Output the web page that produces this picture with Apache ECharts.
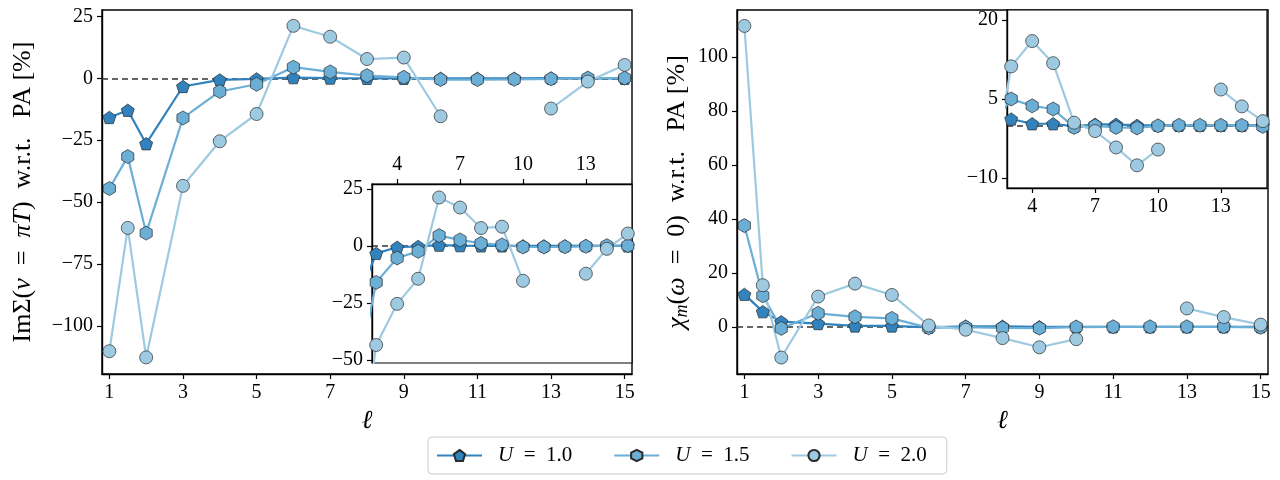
<!DOCTYPE html>
<html>
<head>
<meta charset="utf-8">
<script src="https://cdn.jsdelivr.net/npm/echarts@6/dist/echarts.min.js"></script>
<style>
  html, body { margin: 0; padding: 0; background: #fff; }
  #chart { width: 1280px; height: 480px; }
</style>
</head>
<body>
<div id="chart"></div>
<script>
// angular momentum cutoff values on the x axis
const ELL = [1, 1.5, 2, 3, 4, 5, 6, 7, 8, 9, 10, 11, 12, 13, 14, 15];
const U_NAMES = ['U = 1.0', 'U = 1.5', 'U = 2.0'];

// Im Sigma(nu = pi T), deviation from PA in %
const SIGMA_U10 = [-15.8, -12.9, -26.4, -3.3, -0.6, -0.2, 0.3, 0.1, 0, 0, 0, 0, 0, 0.1, 0, 0];
const SIGMA_U15 = [-44.5, -31.6, -62.5, -16, -5.3, -2.4, 4.5, 2.6, 1.1, 0.4, -0.5, -0.5, -0.4, -0.2, 0.1, 0.1];
const SIGMA_U20 = [-110.2, -60.4, -112.7, -43.4, -25.4, -14.4, 21.2, 16.8, 7.8, 8.4, -15.3, null, null, -12.2, -1.3, 5.4];

// chi_m(omega = 0), deviation from PA in %
const CHI_U10 = [12.0, 5.6, 1.9, 1.2, 0.3, 0.3, -0.2, 0.2, 0.2, 0, 0, 0, 0, 0, 0, 0];
const CHI_U15 = [37.5, 11.5, -0.6, 5.0, 3.7, 3.1, -0.4, -0.1, -0.4, -0.5, -0.1, 0, 0, 0, 0, -0.2];
const CHI_U20 = [111.5, 15.4, -11.4, 11.2, 16.0, 11.8, 0.5, -1.1, -4.2, -7.6, -4.6, null, null, 6.8, 3.6, 0.8];

const X_TICKS = [1, 3, 5, 7, 9, 11, 13, 15];
const INSET_X_TICKS = [4, 7, 10, 13];
const SIGMA_Y_TICKS = [-100, -75, -50, -25, 0, 25];
const SIGMA_INSET_Y_TICKS = [-50, -25, 0, 25];
const CHI_Y_TICKS = [0, 20, 40, 60, 80, 100];
const CHI_INSET_Y_TICKS = [-10, 5, 20];

const FONT = 'Liberation Serif';
const COLORS = ['#3182bd', '#6baed6', '#9ecae1'];
const SYMBOLS = [
    'path://M0,-1 L0.951,-0.309 L0.588,0.809 L-0.588,0.809 L-0.951,-0.309 Z',
    'path://M0,-1 L0.866,-0.5 L0.866,0.5 L0,1 L-0.866,0.5 L-0.866,-0.5 Z',
    'circle',
];
const SIZES = [13, 14, 13];

const fmt = v => String(v).replace('-', '\u2212');

function makeSeries(values, idx, axisIdx, z, zeroLineZ) {
    const s = {
        type: 'line',
        name: U_NAMES[idx],
        xAxisIndex: axisIdx,
        yAxisIndex: axisIdx,
        data: ELL.map((l, i) => [l, values[i] === null ? '-' : values[i]]),
        symbol: SYMBOLS[idx],
        symbolSize: SIZES[idx],
        symbolKeepAspect: true,
        showAllSymbol: true,
        lineStyle: { color: COLORS[idx], width: 2.2 },
        itemStyle: { color: COLORS[idx], borderColor: '#2a2a2a', borderWidth: 0.7 },
        emphasis: { disabled: true },
        clip: true,
        z: z,
    };
    if (zeroLineZ !== undefined) {
        // dashed zero reference line
        s.markLine = {
            silent: true,
            symbol: 'none',
            z: zeroLineZ,
            label: { show: false },
            lineStyle: { color: '#333', type: [6, 4], width: 1.5 },
            data: [{ yAxis: 0 }],
        };
    }
    return s;
}

function axis(gridIndex, min, max, ticks, opts) {
    return Object.assign({
        type: 'value', gridIndex, min, max,
        axisLine: { show: true, onZero: false, lineStyle: { color: '#000', width: 1.4 } },
        axisTick: { show: true, length: 5, customValues: ticks, lineStyle: { color: '#000', width: 1.2 } },
        axisLabel: { customValues: ticks, formatter: fmt, fontFamily: FONT, fontSize: 20, color: '#000', margin: 9 },
        splitLine: { show: false },
    }, opts || {});
}

const ellName = {
    name: '\u2113',
    nameLocation: 'middle',
    nameGap: 32,
    nameTextStyle: { fontFamily: FONT, fontSize: 26, fontStyle: 'italic', color: '#000' },
};

const chart = echarts.init(document.getElementById('chart'), null, { renderer: 'canvas' });

chart.setOption({
    animation: false,
    backgroundColor: '#fff',
    grid: [
        { left: 102, top: 10, width: 530, height: 364, show: true, borderColor: '#000', borderWidth: 1.4, backgroundColor: 'transparent' },
        { left: 737, top: 10, width: 531, height: 364, show: true, borderColor: '#000', borderWidth: 1.4, backgroundColor: 'transparent' },
        { left: 372, top: 184, width: 260, height: 179, show: true, borderColor: '#000', borderWidth: 1.2, backgroundColor: '#fff', z: 5 },
        { left: 1007, top: 10, width: 260, height: 178, show: true, borderColor: '#000', borderWidth: 1.2, backgroundColor: '#fff', z: 5 },
    ],
    xAxis: [
        axis(0, 0.8, 15.2, X_TICKS, ellName),
        axis(1, 0.8, 15.2, X_TICKS, ellName),
        axis(2, 2.8, 15.2, INSET_X_TICKS, { position: 'top', z: 6 }),
        axis(3, 2.8, 15.2, INSET_X_TICKS, { z: 6 }),
    ],
    yAxis: [
        axis(0, -119.4, 27.6, SIGMA_Y_TICKS, {
            name: 'Im\u03A3({i|\u03BD}\u2002=\u2002{i|\u03C0T})  w.r.t.   PA [%]',
            nameLocation: 'middle', nameGap: 66,
            nameTextStyle: { fontFamily: FONT, fontSize: 26, color: '#000',
                rich: { i: { fontFamily: FONT, fontSize: 26, fontStyle: 'italic', color: '#000' } } },
        }),
        axis(1, -17.5, 117.4, CHI_Y_TICKS, {
            name: '{i|\u03C7}{s|m}({i|\u03C9}\u2002=\u20020)  w.r.t.   PA [%]',
            nameLocation: 'middle', nameGap: 46,
            nameTextStyle: { fontFamily: FONT, fontSize: 26, color: '#000', lineHeight: 28,
                rich: {
                    i: { fontFamily: FONT, fontSize: 26, fontStyle: 'italic', color: '#000', lineHeight: 28 },
                    s: { fontFamily: FONT, fontSize: 18, fontStyle: 'italic', color: '#000',
                         lineHeight: 18, padding: [16, 0, 0, 0], verticalAlign: 'bottom' },
                } },
        }),
        axis(2, -51.3, 27.1, SIGMA_INSET_Y_TICKS, { z: 6 }),
        axis(3, -11.9, 21.9, CHI_INSET_Y_TICKS, { z: 6 }),
    ],
    legend: {
        data: U_NAMES,
        left: 428, top: 437,
        itemWidth: 45, itemHeight: 14, itemGap: 41,
        backgroundColor: '#fff', borderColor: '#cccccc', borderWidth: 1, borderRadius: 4,
        padding: [8, 20, 8, 8],
        formatter: n => '{i|U}\u2002=\u2002' + n.split('= ')[1],
        textStyle: {
            fontFamily: FONT, fontSize: 21, color: '#000', padding: [0, 0, 0, 11],
            rich: { i: { fontFamily: FONT, fontSize: 21, fontStyle: 'italic', color: '#000' } },
        },
    },
    series: [
        makeSeries(SIGMA_U10, 0, 0, 2, 1),
        makeSeries(SIGMA_U15, 1, 0, 2),
        makeSeries(SIGMA_U20, 2, 0, 2),
        makeSeries(CHI_U10, 0, 1, 2, 1),
        makeSeries(CHI_U15, 1, 1, 2),
        makeSeries(CHI_U20, 2, 1, 2),
        makeSeries(SIGMA_U10, 0, 2, 7, 6),
        makeSeries(SIGMA_U15, 1, 2, 7),
        makeSeries(SIGMA_U20, 2, 2, 7),
        makeSeries(CHI_U10, 0, 3, 7, 6),
        makeSeries(CHI_U15, 1, 3, 7),
        makeSeries(CHI_U20, 2, 3, 7),
    ],
});
</script>
</body>
</html>
